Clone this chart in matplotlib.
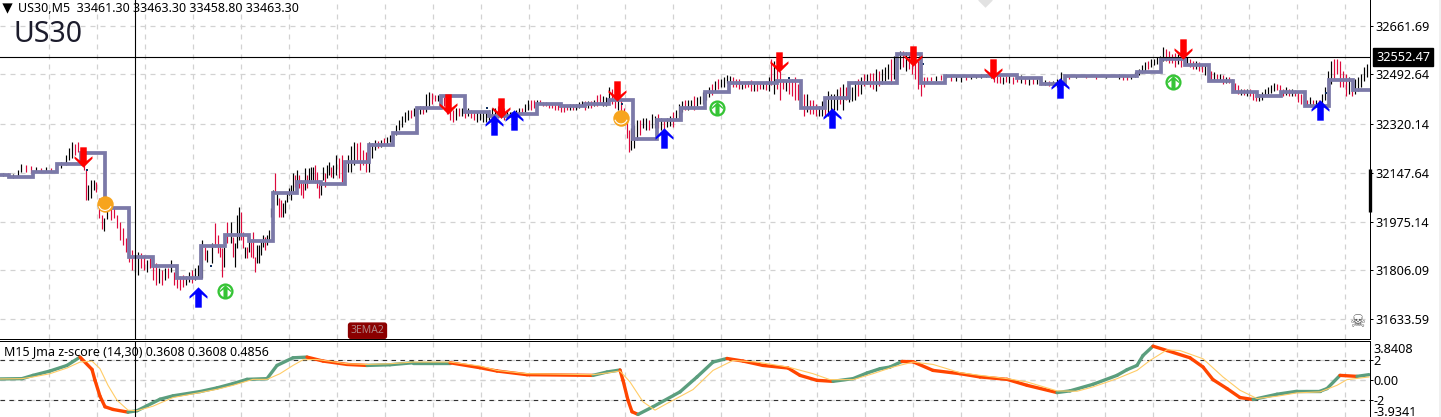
import numpy as np
import matplotlib
matplotlib.use("Agg")
import matplotlib.pyplot as plt
from matplotlib.path import Path

plt.rcParams['font.family'] = ['Noto Sans', 'DejaVu Sans']

# price bars: position along the time axis, high, low, colour
bar_x = [2,7,12,17,20,25,30,35,40,45,50,55,60,65,68,71,74,77,80,
    83,85,87,90,93,95,98,101,103,106,110,113,116,119,122,125,128,131,134,137,140,143,146,149,152,155,158,161,164,167,170,173,176,179,182,185,188,191,194,197,199,
    201,204,206,211,214,217,219,221,223,226,230,232,234,236,238,240,242,244,246,248,250,252,254,256,258,260,262,264,266,268,270,272,274,276,278,280,282,284,286,288,290,292,294,296,298,300,302,304,306,308,310,312,314,316,318,320,322,324,326,328,330,332,
    335,338,341,344,347,350,353,356,359,362,365,368,371,374,377,380,383,386,389,392,
    395,398,401,404,407,410,413,416,419,422,425,428,431,434,437,440,443,446,449,452,
    455,458,461,464,467,470,473,476,479,482,485,488,491,494,497,500,503,506,509,512,
    515,518,521,524,527,530,533,536,539,542,545,548,551,554,557,560,563,566,569,572,
    575,578,581,584,587,590,593,596,599,602,605,608,611,614,617,620,623,626,628,630,
    633,636,639,642,645,648,651,654,657,660,663,666,669,672,675,678,681,684,687,690,
    693,696,699,702,705,708,711,714,717,720,723,726,729,732,735,738,741,744,747,750,
    753,756,759,762,765,768,770,773,776,779,782,785,788,791,794,797,800,803,806,809,
    812,815,818,821,824,827,830,833,836,839,842,845,848,851,854,857,860,863,866,869,
    872,875,878,881,884,887,890,893,896,899,902,905,908,911,914,917,920,923,926,930,
    935,940,945,950,955,960,965,970,975,980,985,990,993,996,999,1002,1005,1008,1012,1016,
    1020,1024,1028,1032,1036,1040,1044,1048,1052,1056,1060,1064,1068,1075,1085,1095,1105,1118,1122,1126,
    1130,1134,1138,1141,1144,1147,1150,1153,1156,1159,1162,1165,1168,1171,1174,1177,1180,1183,1186,1189,
    1192,1195,1198,1201,1204,1207,1210,1213,1216,1219,1222,1225,1228,1231,1234,1237,1240,1243,1246,1249,
    1252,1255,1258,1261,1264,1267,1270,1273,1276,1279,1282,1285,1288,1291,1294,1297,1300,1303,1306,1309,
    1312,1315,1318,1321,1324,1327,1330,1333,1336,1339,1342,1345,1348,1351,1354,1357,1360,1363,1366]
bar_high = [32148,32148,32144,32158,32179,32176,32172,32169,32165,32169,32165,32169,32186,32211,32236,32257,32250,32257,32236,
    32211,32158,32105,32123,32123,32116,32060,32000,31989,32053,32035,32024,32000,31975,31954,31919,31894,31876,31859,31869,31866,31859,31841,31848,31848,31831,31813,31806,31813,31813,31841,31799,31799,31785,31788,31785,31799,31806,31813,31824,31855,
    31912,31887,31876,31901,31972,31929,31894,31884,31887,31975,31975,31922,31901,32000,32028,32010,31940,31887,31887,31922,31905,31940,31852,31894,31894,31912,31929,31922,31929,31947,32024,32088,32148,32077,32060,32053,32042,32053,32077,32095,32105,32148,32141,32158,32141,32123,32112,32165,32141,32165,32169,32169,32176,32151,32123,32116,32169,32148,32176,32186,32169,32176,
    32211,32200,32211,32186,32211,32243,32257,32253,32257,32229,32221,32257,32253,32264,32260,32264,32271,32274,32281,32288,
    32316,32334,32348,32362,32369,32366,32376,32376,32380,32380,32422,32429,32426,32419,32419,32415,32412,32404,32376,32369,
    32376,32376,32376,32376,32373,32369,32362,32359,32362,32359,32362,32369,32373,32376,32380,32387,32376,32369,32362,32362,
    32369,32376,32376,32387,32404,32404,32404,32401,32404,32394,32394,32390,32390,32387,32387,32387,32383,32383,32387,32387,
    32390,32394,32398,32398,32398,32398,32404,32419,32422,32415,32412,32447,32440,32433,32419,32404,32376,32341,32299,32306,
    32316,32334,32334,32341,32341,32334,32352,32348,32352,32341,32334,32341,32345,32359,32369,32387,32398,32404,32404,32404,
    32415,32412,32415,32429,32433,32447,32457,32468,32475,32475,32482,32489,32485,32482,32475,32475,32457,32461,32468,32471,
    32464,32461,32461,32461,32468,32482,32545,32538,32517,32503,32475,32468,32475,32475,32482,32457,32440,32422,32422,32404,
    32404,32387,32383,32398,32404,32433,32422,32422,32440,32447,32457,32447,32447,32447,32468,32475,32482,32492,32492,32496,
    32496,32510,32503,32510,32517,32528,32545,32556,32563,32573,32573,32570,32563,32563,32545,32538,32528,32482,32482,32482,
    32485,32489,32492,32485,32489,32489,32485,32489,32489,32492,32492,32503,32492,32485,32489,32482,32485,32489,32482,32489,
    32489,32482,32478,32482,32475,32471,32471,32468,32468,32475,32499,32485,32489,32489,32489,32489,32489,32492,32489,32485,
    32489,32499,32510,32524,32535,32538,32545,32545,32552,32556,32588,32580,32573,32563,32566,32563,32556,32552,32552,32545,
    32538,32538,32535,32528,32524,32517,32503,32499,32492,32492,32489,32482,32482,32475,32461,32454,32440,32440,32440,32440,
    32433,32422,32422,32429,32440,32447,32454,32461,32457,32454,32440,32447,32440,32440,32436,32429,32422,32419,32404,32412,
    32404,32404,32404,32422,32447,32503,32538,32545,32545,32538,32503,32492,32482,32468,32475,32482,32492,32517,32528]
bar_low = [32137,32134,32130,32137,32151,32151,32148,32151,32151,32151,32151,32151,32165,32176,32193,32200,32211,32221,32207,
    32158,32053,32053,32060,32088,32081,31989,31950,31943,31986,31982,31989,31954,31912,31894,31869,31834,31806,31799,31788,31813,31806,31799,31813,31771,31753,31760,31753,31771,31778,31799,31753,31743,31736,31746,31753,31764,31760,31771,31778,31806,
    31778,31841,31834,31831,31887,31866,31852,31781,31817,31901,31901,31852,31817,31884,31912,31912,31884,31848,31848,31869,31852,31848,31799,31831,31831,31859,31887,31876,31894,31912,31993,32017,32077,32035,31993,31993,31993,32007,32046,32070,32053,32081,32098,32112,32095,32070,32060,32088,32095,32112,32123,32123,32112,32095,32060,32070,32123,32098,32130,32141,32133,32130,
    32141,32130,32116,32141,32151,32151,32176,32193,32158,32176,32151,32151,32200,32229,32236,32239,32246,32250,32257,32264,
    32281,32299,32309,32327,32334,32341,32348,32352,32355,32352,32362,32383,32390,32398,32398,32394,32383,32355,32334,32327,
    32334,32345,32348,32341,32345,32341,32334,32327,32334,32324,32327,32334,32338,32341,32341,32341,32334,32341,32345,32348,
    32352,32352,32355,32362,32369,32369,32376,32380,32387,32380,32380,32376,32373,32369,32366,32362,32362,32366,32369,32366,
    32369,32376,32380,32369,32373,32373,32380,32383,32387,32380,32383,32404,32390,32376,32369,32352,32316,32271,32221,32229,
    32236,32264,32281,32306,32299,32299,32306,32306,32306,32299,32281,32309,32313,32309,32334,32341,32362,32369,32369,32376,
    32369,32383,32387,32390,32404,32412,32419,32433,32440,32447,32447,32461,32457,32447,32447,32440,32440,32443,32447,32433,
    32433,32433,32440,32440,32436,32433,32454,32422,32440,32404,32440,32433,32422,32415,32404,32404,32376,32345,32359,32352,
    32352,32345,32345,32345,32348,32345,32359,32369,32369,32387,32369,32404,32394,32398,32404,32415,32422,32450,32457,32447,
    32440,32433,32450,32457,32468,32475,32457,32475,32492,32510,32517,32503,32510,32492,32475,32440,32415,32447,32461,32468,
    32468,32471,32478,32468,32468,32464,32471,32475,32478,32478,32482,32478,32464,32461,32461,32457,32464,32461,32457,32464,
    32461,32457,32454,32457,32457,32454,32454,32450,32450,32447,32447,32457,32475,32478,32478,32475,32478,32475,32471,32471,
    32475,32482,32489,32496,32503,32510,32517,32524,32528,32535,32538,32538,32531,32531,32517,32528,32517,32524,32524,32517,
    32510,32510,32503,32499,32489,32475,32468,32471,32468,32468,32457,32461,32461,32447,32433,32422,32419,32419,32415,32415,
    32404,32398,32398,32404,32419,32422,32426,32433,32436,32426,32415,32419,32415,32415,32415,32394,32387,32383,32380,32380,
    32383,32380,32376,32387,32404,32422,32457,32475,32492,32447,32447,32415,32422,32415,32422,32433,32447,32468,32482]
bar_dir = ("krkkkrrkrkrrkkkkrrr"
    "rrkkkrrrkkrrrrrrrrkkrrkrrrkrkrkrrrrkkrkkk"
    "krkkrrrrkrkrkkkrrkrkrrrkkkkrkkkkrkrrkkkkkkrkrrrkrkkkrrrkkrkkrk"
    "krrrkkkrrrrkkkrkrkkk"
    "kkkkkrkrkrkkrrkrrrrr"
    "krkrkrrkkkkkkkrrrkkr"
    "kkrkkrrkrrrrrrrrrrkr"
    "kkkrkrkrrkkkrrkrrrrk"
    "kkrkkrkkrkrkkrkkkrkk"
    "rkkkkkrkrkkkkrrrkrrr"
    "krrkrkrkrrrkrrrrrrkr"
    "rrkkrkkkkrkrkkkrkrkr"
    "rkrkkkrkkkrkrrrrrrrr"
    "krkrkkrkkkkkrrrkrkrr"
    "krkrkrkrkkkkrkrrkkrr"
    "kkkkkrkkkkkrrrrkrrkr"
    "rkrrkrrkrkrkrrrrkrkr"
    "rrkkkkkkrrrkrkrrrrrk"
    "rkrkkkkrrrrrkrkkkkk")

# hourly step line
step_values = [32141,32134,32151,32179,32218,32024,31852,31820,31778,31891,
    31929,31908,32077,32116,32109,32186,32246,32288,32373,32415,
    32359,32345,32355,32390,32383,32387,32404,32267,32334,32373,
    32429,32461,32461,32468,32376,32408,32461,32461,32563,32461,
    32485,32485,32489,32478,32457,32485,32485,32485,32499,32545,
    32524,32468,32429,32415,32429,32383,32471,32436]

# arrows and circles
sell_x = [83,448,501,617,779,913,993,1183]
sell_price = [32204,32390,32376,32433,32535,32556,32510,32580]
buy_x = [198,494,514,664,832,1060,1320]
buy_price = [31711,32316,32331,32271,32341,32443,32369]
orange_x = [105,621]
orange_price = [32038,32341]
green_x = [225,717,1173]
green_price = [31732,32373,32464]
dot_x = [87,211,487,502,622,676,789,833,923,1326]
dot_price = [32158,31820,32373,32369,32390,32334,32478,32408,32528,32426]

# z-score window
fast_x = [0,22,33,50,67,80,92,95,100,105,113,128,137,147,160,173,200,217,233,247,267,277,293,307,323,347,367,390,413,450,480,
    497,527,593,607,620,623,628,632,638,653,680,697,713,727,743,763,788,800,817,833,853,867,880,890,902,913,933,960,
    980,1007,1027,1057,1070,1093,1117,1127,1137,1143,1153,1167,1190,1203,1213,1227,1240,1253,1277,1297,1320,1327,1340,1357,1369]
fast_z = [0.07,0.10,0.43,0.87,1.43,2.27,1.03,-0.07,-1.67,-2.73,-3.00,-3.27,-3.13,-2.63,-1.97,-1.63,-1.20,-0.83,-0.40,0.03,0.10,1.43,2.20,2.27,1.87,1.53,1.43,1.50,1.70,1.70,1.20,
    0.87,0.50,0.43,0.77,0.97,-0.07,-2.07,-3.23,-3.50,-2.73,-1.23,0.27,1.77,2.13,1.87,1.43,1.17,0.43,-0.07,-0.17,0.10,0.67,1.10,1.27,1.83,1.80,0.93,0.60,
    0.27,0.03,-0.57,-1.30,-1.13,-0.47,0.43,1.00,1.43,2.43,3.37,2.93,2.20,1.27,0.00,-0.90,-1.80,-2.00,-1.47,-1.17,-1.17,-0.90,0.43,0.33,0.50]
slow_x = [0,22,33,50,67,80,92,100,108,117,128,137,153,173,200,217,233,253,267,280,293,303,317,347,367,390,413,450,480,
    497,527,593,607,620,630,643,655,667,693,713,733,757,788,813,830,853,873,893,913,933,960,
    980,1007,1027,1057,1077,1093,1117,1137,1150,1167,1180,1203,1223,1240,1257,1277,1297,1320,1337,1347,1369]
slow_z = [0.07,0.10,0.27,0.60,1.17,1.77,1.87,1.10,-0.57,-2.07,-3.07,-3.13,-2.67,-1.80,-1.30,-0.97,-0.57,0.03,0.03,0.60,1.43,2.00,2.03,1.60,1.53,1.60,1.77,1.77,1.37,
    0.93,0.60,0.50,0.67,0.87,-0.23,-2.23,-3.07,-2.40,-1.00,0.93,1.93,1.77,1.27,0.60,0.00,0.00,0.60,1.27,1.77,1.53,0.70,
    0.43,0.10,-0.23,-1.13,-1.17,-0.73,0.10,0.93,1.93,3.00,2.93,2.10,0.27,-1.07,-1.90,-1.67,-1.33,-1.23,-0.57,0.00,0.27]

price_ticks = [32661.69,32492.64,32320.14,32147.64,31975.14,31806.09,31633.59]
z_ticks = [2,0,-2]
crosshair_x = 134
crosshair_price = 32552.47

W, H = 1441, 417
TEXT = 9.1
GRID = "#d2d2d2"
dash = (0, (4, 4))
bar_colors = {"k": "#000000", "r": "#dc0a3c"}
RIGHT = 1369.5

fig = plt.figure(figsize=(W / 100, H / 100), dpi=100)
ax = fig.add_axes([0, (H - 338.5) / H, RIGHT / W, 338.5 / H])
sub = fig.add_axes([0, 0, RIGHT / W, (H - 340.5) / H])

for a in (ax, sub):
    a.set_xlim(0, RIGHT)
    a.set_xticks(np.arange(48.5, 1369, 48))
    a.set_xticklabels([])
    a.tick_params(axis="x", length=0)
    a.tick_params(axis="y", length=2.2, width=0.72, pad=2, labelsize=TEXT, right=True, left=False, labelright=True, labelleft=False)
    a.grid(True, color=GRID, linewidth=0.9, linestyle=dash)
    a.set_axisbelow(True)
    a.spines["left"].set_visible(False)
    a.spines["right"].set_linewidth(0.72)

ax.spines["top"].set_visible(False)
ax.spines["bottom"].set_linewidth(0.72)
sub.spines["bottom"].set_visible(False)
sub.spines["top"].set_linewidth(0.72)

ax.set_ylim(31566.6, 32753)
ax.set_yticks(price_ticks)
ax.set_yticklabels(["%.2f" % p for p in price_ticks])

# bars
ax.vlines(np.array(bar_x) + 0.5, bar_low, bar_high,
          colors=[bar_colors[c] for c in bar_dir], linewidth=0.85, zorder=2)
ax.scatter(dot_x, dot_price, s=3, marker="s", color="#103060", zorder=2.5, linewidths=0)

# step line
step_x = np.arange(-15, 1369, 24)
ax.plot(list(step_x) + [1369], step_values + [step_values[-1]], drawstyle="steps-post",
        color="#7b79a8", linewidth=2.7, solid_joinstyle="miter", zorder=3)

# crosshair
ax.axhline(crosshair_price, color="black", linewidth=0.8, zorder=4)
ax.axvline(crosshair_x + 0.5, color="black", linewidth=0.8, zorder=4)
sub.axvline(crosshair_x + 0.5, color="black", linewidth=0.8, zorder=4)

# arrows
up_arrow = Path([(0, 1), (0.88, 0.12), (0.88, -0.12), (0.32, 0.32), (0.32, -1), (-0.32, -1), (-0.32, 0.32), (-0.88, -0.12), (-0.88, 0.12), (0, 1)], closed=True)
down_arrow = Path([(0, -1), (0.88, -0.12), (0.88, 0.12), (0.32, -0.32), (0.32, 1), (-0.32, 1), (-0.32, -0.32), (-0.88, 0.12), (-0.88, -0.12), (0, -1)], closed=True)
ax.scatter(sell_x, sell_price, marker=down_arrow, s=215, color="#ff0000", linewidths=0, zorder=5)
ax.scatter(buy_x, buy_price, marker=up_arrow, s=215, color="#0000ff", linewidths=0, zorder=5)

# circle signals
ax.scatter(orange_x, orange_price, marker="o", s=140, color="#f7a41d", linewidths=0, zorder=3.5)
ax.scatter(orange_x, orange_price, marker=Path.arc(200, 340), s=85, facecolors="none", edgecolors="white", linewidths=0.8, zorder=3.6)
ax.scatter(green_x, green_price, marker="o", s=135, color="#35c435", linewidths=0, zorder=5)
ax.scatter(green_x, green_price, marker="o", s=68, color="white", linewidths=0, zorder=5.1)
ax.scatter(green_x, green_price, marker=up_arrow, s=85, color="#35c435", linewidths=0, zorder=5.2)

# text in the chart window
ax.scatter([7], [32726], marker="v", s=55, color="black", linewidths=0, zorder=6)
ax.text(18, 32722, "US30,M5  33461.30 33463.30 33458.80 33463.30", fontsize=9.0, va="center", ha="left", color="black", zorder=6)
ax.text(13, 32633, "US30", fontsize=20.5, va="center", ha="left", color="#1c1c2c", zorder=6)
ax.text(367.5, 31594, "3EMA2", fontsize=7.5, va="center", ha="center", color="#b08585", zorder=6,
        bbox=dict(boxstyle="round,pad=0.2", facecolor="#8b0000", edgecolor="#8b0000"))
ax.text(1358, 31624, "\u2620", fontsize=13, va="center", ha="center", color="#555555", family=["DejaVu Sans"], zorder=6)
ax.scatter([985], [32753], marker="D", s=55, color="#e2e2e2", linewidths=0, zorder=1)

# current price box and the scroll mark on the axis
ax.text(1376, crosshair_price, "%.2f" % crosshair_price, fontsize=TEXT, va="center", ha="left", color="white", clip_on=False, zorder=7,
        bbox=dict(boxstyle="square,pad=0.2", facecolor="black", edgecolor="black"))
ax.plot([1369.5, 1369.5], [32009, 32160], color="black", linewidth=2.4, clip_on=False, solid_capstyle="butt", zorder=7)

# z-score window
sub.set_ylim(-3.76, 3.94)
sub.set_yticks(z_ticks)
sub.set_yticklabels(["2", "0.00", "-2"])
sub.tick_params(axis="y", pad=0.8)
for tick in z_ticks:
    if tick != 0:
        sub.axhline(tick, color="#303030", linewidth=0.8, linestyle=dash, zorder=1.5)
    else:
        sub.axhline(tick, color=GRID, linewidth=0.9, linestyle=dash, zorder=1)

sub.plot(slow_x, slow_z, color="#ffcc66", linewidth=0.8, zorder=3.5)
for i in range(len(fast_x) - 1):
    rising = fast_z[i + 1] >= fast_z[i]
    sub.plot(fast_x[i:i + 2], fast_z[i:i + 2], color="#5b9e7e" if rising else "#ff4500",
             linewidth=2.4, solid_capstyle="round", zorder=3)

trans = sub.get_xaxis_transform()
sub.text(1373, 0.883, "3.8408", transform=trans, fontsize=TEXT, va="center", ha="left", clip_on=False)
sub.text(1373, 0.06, "-3.9341", transform=trans, fontsize=TEXT, va="center", ha="left", clip_on=False)
sub.text(4, 0.855, "M15 Jma z-score (14,30) 0.3608 0.3608 0.4856", transform=trans, fontsize=9.0, va="center", ha="left", zorder=6)

fig.patches.append(plt.Rectangle((1439 / W, 0), 2 / W, 1, transform=fig.transFigure, facecolor="#f0f0f0", edgecolor="none"))
fig.savefig("out.png", dpi=100, facecolor="white")
